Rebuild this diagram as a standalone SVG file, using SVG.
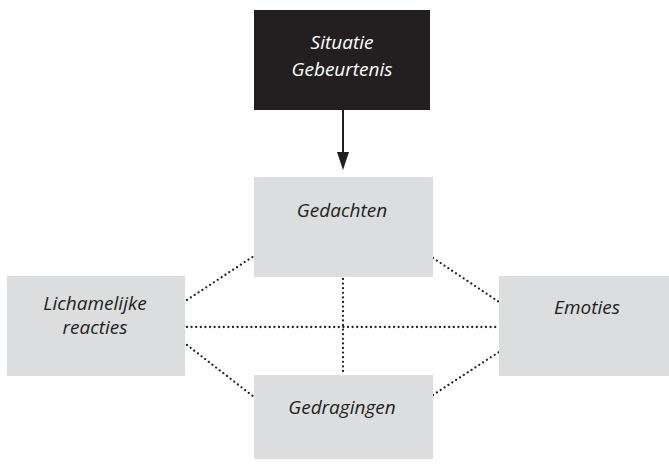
<svg xmlns="http://www.w3.org/2000/svg" width="669" height="471" viewBox="0 0 669 471">
<defs>
<style>
.box{fill:#dcdddf}
.dark{fill:#231f20}
.t{font-family:"Open Sans",sans-serif;font-style:italic;font-size:19px;fill:#231f20;text-anchor:middle}
.w{fill:#ffffff}
.dot{stroke:#231f20;stroke-width:2.3;stroke-linecap:round;stroke-dasharray:0 4.6;fill:none}
</style>
</defs>
<rect width="669" height="471" fill="#ffffff"/>
<g id="connectors">
<line x1="343" y1="110" x2="343" y2="156" stroke="#231f20" stroke-width="2"/>
<polygon points="337,152 349,152 343,170" fill="#231f20"/>
<line class="dot" x1="187" y1="300" x2="254" y2="256"/>
<line class="dot" x1="187" y1="327" x2="499" y2="327"/>
<line class="dot" x1="187" y1="345" x2="254" y2="397"/>
<line class="dot" x1="433" y1="258" x2="499" y2="302"/>
<line class="dot" x1="433" y1="395" x2="499" y2="352"/>
<line class="dot" x1="343" y1="279" x2="343" y2="375"/>
</g>
<g id="situatie">
<rect class="dark" x="254" y="10" width="176" height="100"/>
<text class="t w" x="342" y="49">Situatie</text>
<text class="t w" x="342" y="76">Gebeurtenis</text>
</g>
<g id="gedachten">
<rect class="box" x="254" y="177" width="179" height="100"/>
<text class="t" x="342" y="217">Gedachten</text>
</g>
<g id="lichamelijke">
<rect class="box" x="7" y="276" width="178" height="100"/>
<text class="t" x="95" y="310">Lichamelijke</text>
<text class="t" x="95" y="334">reacties</text>
</g>
<g id="emoties">
<rect class="box" x="499" y="276" width="170" height="100"/>
<text class="t" x="587" y="314">Emoties</text>
</g>
<g id="gedragingen">
<rect class="box" x="254" y="375" width="179" height="84"/>
<text class="t" x="342" y="414">Gedragingen</text>
</g>
</svg>
